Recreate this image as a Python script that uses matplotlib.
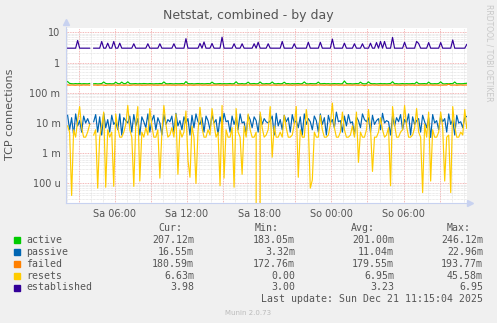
import matplotlib

matplotlib.use("Agg")
import matplotlib.pyplot as plt
import numpy as np
from matplotlib.ticker import FixedLocator, FuncFormatter, LogLocator, MultipleLocator

nan = float("nan")

# samples every 10 minutes, last one at So 11:15 (hours counted from Sa 00:00)
t_last = 35.25
step_h = 1 / 6

# all values in milli-connections
active_m = [
    235, 205, 200, 198, 202, 199, 204, 197, 201, 200, 198, 203, nan, 199, 201, 197, 200, 202, 228, 203,
    199, 201, 198, 200, 224, 202, 199, 226, 200, 203, 231, 201, 198, 200, 202, 197, 201, 199, 203, 200,
    198, 202, 200, 197, 201, 199, 203, 200, 229, 201, 198, 202, 200, 197, 201, 199, 200, 203, 198, 235,
    202, 199, 201, 197, 200, 203, 199, 201, 198, 200, 202, 199, 226, 201, 197, 200, 202, 198, 201, 199,
    200, 203, 198, 201, 232, 200, 199, 202, 197, 201, 225, 199, 200, 203, 198, 201, 227, 200, 197, 202,
    199, 201, 228, 200, 198, 203, 199, 201, 224, 200, 202, 197, 201, 199, 200, 203, 198, 201, 229, 200,
    197, 202, 200, 199, 201, 226, 198, 200, 203, 199, 201, 197, 200, 202, 199, 201, 198, 200, 246, 203,
    199, 201, 197, 200, 202, 199, 225, 201, 198, 200, 230, 203, 199, 201, 197, 200, 202, 199, 201, 198,
    200, 203, 233, 199, 201, 197, 200, 202, 198, 201, 199, 200, 203, 198, 227, 201, 199, 200, 202, 197,
    226, 200, 198, 201, 199, 203, 230, 200, 197, 201, 199, 202, 200, 228, 198, 201, 199, 200, 203, 207.12,
]
passive_m = [
    18, 6, 15, 4, 20, 8, 12, 5, 17, 10, 14, 9, nan, 11, 19, 5, 16, 4, 21, 7,
    13, 5, 18, 9, 11, 6, 20, 4, 15, 12, 10, 17, 5, 19, 8, 14, 4, 16, 11, 7,
    20, 5, 12, 18, 6, 15, 10, 4, 19, 9, 13, 11, 17, 5, 21, 8, 12, 6, 16, 10,
    14, 4, 18, 7, 20, 11, 9, 15, 5, 17, 12, 6, 19, 10, 13, 4, 16, 8, 21, 11,
    12, 5, 17, 9, 15, 6, 20, 10, 11, 4, 18, 13, 7, 16, 12, 5, 19, 9, 14, 11,
    10, 12, 17, 4, 21, 8, 13, 6, 18, 11, 15, 5, 19, 10, 12, 7, 16, 4, 20, 9,
    14, 11, 6, 17, 12, 5, 20, 9, 15, 4, 18, 10, 13, 7, 22.96, 11, 12, 5, 17, 8,
    19, 10, 11, 4, 16, 12, 7, 20, 13, 11, 15, 5, 18, 9, 12, 14, 6, 21, 10, 12,
    11, 4, 17, 8, 15, 11, 19, 6, 13, 10, 20, 4, 16, 9, 12, 14, 5, 18, 11, 7,
    15, 3.32, 19, 10, 12, 6, 17, 11, 14, 5, 20, 9, 13, 4, 18, 10, 11, 7, 15, 16.55,
]
failed_m = [
    182, 179, 181, 180, 178, 181, 180, 179, 182, 180, 181, 179, nan, 180, 181, 178, 180, 182, 179, 176,
    181, 180, 179, 182, 180, 178, 181, 180, 179, 181, 180, 177, 180, 182, 179, 180, 181, 178, 180, 179,
    181, 180, 182, 179, 180, 178, 181, 180, 179, 182, 180, 181, 179, 180, 178, 181, 180, 179, 182, 180,
    179, 181, 180, 178, 181, 180, 182, 179, 180, 181, 178, 180, 179, 181, 180, 182, 179, 180, 181, 178,
    180, 181, 179, 182, 180, 178, 181, 180, 179, 181, 180, 182, 179, 180, 181, 178, 180, 179, 181, 180,
    182, 179, 180, 181, 178, 180, 179, 181, 180, 182, 179, 180, 178, 181, 180, 179, 182, 180, 181, 179,
    180, 181, 178, 180, 179, 182, 181, 180, 179, 181, 180, 178, 181, 180, 182, 179, 180, 181, 179, 180,
    181, 180, 179, 182, 180, 178, 181, 180, 173, 181, 180, 179, 182, 180, 181, 178, 180, 179, 181, 180,
    179, 181, 180, 182, 179, 180, 178, 181, 180, 179, 182, 180, 181, 179, 180, 178, 181, 180, 179, 181,
    180, 182, 179, 180, 181, 178, 180, 179, 181, 180, 194, 179, 180, 181, 178, 180, 182, 179, 181, 180.59,
]
resets_m = [
    8, 5, 0.04, 6, 3.4, 12, 35, 7, 3.4, 3.4, 5, 9, nan, 4, 6, 0.07, 3.4, 8, 23, 0.075,
    6, 3.4, 5, 0.08, 20, 7, 3.4, 3.4, 5, 9, 38, 6, 3.4, 0.08, 10, 35, 0.12, 5, 3.4, 7,
    4, 30, 8, 3.4, 3.4, 6, 0.15, 5, 38, 9, 3.4, 4, 7, 3.4, 20, 0.2, 6, 3.4, 5, 25,
    0.6, 0.16, 8, 3.4, 0.1, 5, 33, 7, 3.4, 3.4, 6, 4, 30, 9, 3.4, 5, 0.084, 38, 0.15, 6,
    3.4, 3.4, 7, 0.075, 30, 5, 3.4, 0.2, 8, 3.4, 20, 6, 3.4, 3.4, 5, 0, 23, 7, 3.4, 4,
    6, 35, 0.74, 8, 3.4, 3.4, 5, 3.4, 18, 7, 3.4, 3.4, 4, 9, 35, 0.16, 6, 3.4, 3.4, 28,
    8, 0.07, 0.13, 5, 3.4, 3.4, 18, 6, 3.4, 3.4, 4, 9, 45.58, 7, 3.4, 3.4, 5, 23, 6, 3.4,
    3.4, 4, 8, 3.4, 23, 0.5, 5, 3.4, 3.4, 6, 28, 7, 0.25, 3.4, 3.4, 5, 15, 6, 3.4, 4,
    7, 0.084, 35, 9, 3.4, 3.4, 5, 6, 38, 8, 3.4, 3.4, 4, 7, 30, 5, 3.4, 0.05, 9, 3.4,
    23, 0.12, 6, 3.4, 3.4, 5, 23, 7, 0.12, 3.4, 4, 0.05, 35, 8, 3.4, 3.4, 5, 4, 28, 6.63,
]
# established in plain connections
established = [
    3, 3, 3, 3, 3, 5.4, 3, 3, 3, 3, 3, 3, nan, 3, 3, 3, 3, 5.0, 3, 3,
    4.4, 3, 3, 5.0, 3, 3, 4.4, 3, 3, 3, 3, 3, 3, 4.2, 3, 3, 3, 3, 3, 3,
    4.2, 3, 3, 3, 3, 3, 4.2, 3, 3, 3, 3, 3, 3, 4.2, 3, 3, 3, 3, 3, 6.2,
    3, 3, 3, 3, 3, 3, 4.3, 3, 4.8, 3, 3, 3, 4.3, 3, 3, 3, 3, 6.95, 3, 3,
    3, 3, 3, 4.2, 3, 3, 3, 4.2, 3, 3, 3, 3, 3, 4.2, 3, 4.7, 3, 3, 3, 3,
    4.2, 3, 3, 3, 3, 3, 3, 5.0, 3, 3, 3, 3, 3, 4.2, 3, 3, 3, 3, 3, 3,
    4.7, 3, 3, 3, 3, 3, 4.7, 3, 3, 3, 3, 3, 6.0, 3, 3, 3, 3, 3, 4.4, 3,
    3, 3, 3, 4.2, 3, 3, 3, 4.2, 3, 3, 3, 4.4, 3, 3, 4.6, 3, 5.0, 3, 5.0, 3,
    3, 3, 6.8, 3, 3, 3, 3, 3, 4.7, 3, 3, 3, 3, 3, 5.0, 4.3, 3, 3, 3, 3,
    4.6, 3, 3, 3, 3, 3, 4.6, 3, 3, 3, 3, 3, 5.6, 3, 3, 3, 3, 3, 3, 3.98,
]

names = ["active", "passive", "failed", "resets", "established"]
colors = ["#00CC00", "#0066B3", "#FF8000", "#FFCC00", "#330099"]
cur = ["207.12m", "16.55m", "180.59m", "6.63m", "3.98"]
mins = ["183.05m", "3.32m", "172.76m", "0.00", "3.00"]
avgs = ["201.00m", "11.04m", "179.55m", "6.95m", "3.23"]
maxs = ["246.12m", "22.96m", "193.77m", "45.58m", "6.95"]

x_tick_hours = [6, 12, 18, 24, 30]
x_tick_labels = ["Sa 06:00", "Sa 12:00", "Sa 18:00", "So 00:00", "So 06:00"]
y_tick_vals = [10, 1, 0.1, 0.01, 0.001, 0.0001]
y_tick_labels = ["10", "1", "100 m", "10 m", "1 m", "100 u"]

series = [
    np.array(active_m) * 1e-3,
    np.array(passive_m) * 1e-3,
    np.array(failed_m) * 1e-3,
    np.array(resets_m) * 1e-3,
    np.array(established),
]
n = len(established)
t = t_last - step_h * np.arange(n)[::-1]

W, H = 497, 323


def fx(x):
    return x / W


def fy(y):
    return 1 - y / H


fig = plt.figure(figsize=(W / 100, H / 100), dpi=100, facecolor="#F0F0F0")
left, right, top, bottom = 66, 467, 27.5, 203.3
ax = fig.add_axes([fx(left), fy(bottom), (right - left) / W, (bottom - top) / H])
ax.set_facecolor("white")

for vals, color in zip(series, colors):
    ax.plot(t, vals, color=color, linewidth=0.85)

ax.set_yscale("log", nonpositive="clip")
ax.set_ylim(2.2e-5, 14.5)
ax.set_xlim(t_last - 33.3, t_last + 0.02)

lab = dict(zip(x_tick_hours, x_tick_labels))
ax.xaxis.set_major_locator(MultipleLocator(3))
ax.xaxis.set_minor_locator(MultipleLocator(1))
ax.xaxis.set_major_formatter(FuncFormatter(lambda v, p: lab.get(int(round(v)), "")))
ax.yaxis.set_major_locator(FixedLocator(y_tick_vals))
ax.yaxis.set_minor_locator(LogLocator(base=10, subs=np.arange(2, 10)))
ylab = dict(zip(y_tick_vals, y_tick_labels))
ax.yaxis.set_major_formatter(FuncFormatter(lambda v, p: next((s for k, s in ylab.items() if abs(np.log10(v) - np.log10(k)) < 0.01), "")))
ax.yaxis.set_minor_formatter(FuncFormatter(lambda v, p: ""))

ax.grid(which="minor", color="#D8D8D8", linestyle=(0, (1, 1)), linewidth=0.5)
ax.grid(which="major", color="#F0A0A0", linestyle=(0, (1, 1)), linewidth=0.6)
ax.set_axisbelow(True)
ax.tick_params(which="both", length=0, labelsize=7, labelcolor="#555555", pad=4)

for s in ["top", "right"]:
    ax.spines[s].set_visible(False)
for s in ["left", "bottom"]:
    ax.spines[s].set_color("#C8D2F0")
    ax.spines[s].set_linewidth(0.8)
ax.plot([0], [1.03], marker="^", color="#C8D2F0", markersize=4, transform=ax.transAxes, clip_on=False)
ax.plot([1.008], [0], marker=">", color="#C8D2F0", markersize=4, transform=ax.transAxes, clip_on=False)

fig.text(fx(248), fy(15), "Netstat, combined - by day", ha="center", va="center", fontsize=9, color="#555555")
fig.text(fx(10), fy(114), "TCP connections", rotation=90, ha="center", va="center", fontsize=8, color="#555555")
fig.text(fx(489), fy(53), "RRDTOOL / TOBI OETIKER", rotation=270, ha="center", va="center", fontsize=5.5, color="#C8C8C8")
fig.text(fx(248), fy(313), "Munin 2.0.73", ha="center", va="center", fontsize=5, color="#BBBBBB")

mono = dict(family="DejaVu Sans Mono", fontsize=7.1, color="#555555", va="center")
fig.text(fx(158), fy(228), "Cur:", ha="left", **mono)
fig.text(fx(255), fy(228), "Min:", ha="left", **mono)
fig.text(fx(351), fy(228), "Avg:", ha="left", **mono)
fig.text(fx(447), fy(228), "Max:", ha="left", **mono)
row_y = [240, 252, 264, 276, 287.5]
for y, name, color, c, mn, av, mx in zip(row_y, names, colors, cur, mins, avgs, maxs):
    fig.patches.append(plt.Rectangle((fx(14), fy(y + 3)), 6 / W, 6 / H, transform=fig.transFigure, color=color))
    fig.text(fx(26), fy(y), name, ha="left", **mono)
    fig.text(fx(194), fy(y), c, ha="right", **mono)
    fig.text(fx(295), fy(y), mn, ha="right", **mono)
    fig.text(fx(394), fy(y), av, ha="right", **mono)
    fig.text(fx(483), fy(y), mx, ha="right", **mono)
fig.text(fx(483), fy(299.5), "Last update: Sun Dec 21 11:15:04 2025", ha="right", **mono)

fig.savefig("out.png", dpi=100, facecolor=fig.get_facecolor())
